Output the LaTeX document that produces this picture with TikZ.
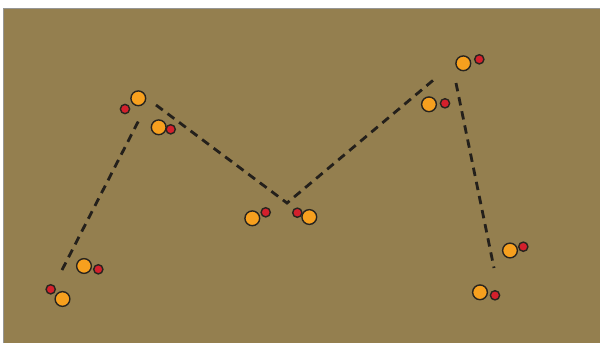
\documentclass[tikz,border=0pt]{standalone}
\definecolor{bg}{RGB}{148,127,79}
\definecolor{orangedot}{RGB}{247,160,30}
\definecolor{reddot}{RGB}{212,32,44}
\definecolor{edge}{RGB}{40,36,30}
\definecolor{frame}{RGB}{150,150,148}
\tikzset{
  big/.style={circle,inner sep=0pt,minimum size=0.295cm,fill=orangedot,draw=edge,line width=0.8pt},
  small/.style={circle,inner sep=0pt,minimum size=0.185cm,fill=reddot,draw=edge,line width=0.8pt},
  route/.style={draw=edge!90!black,line width=1.6pt,dash pattern=on 4.8pt off 3.4pt}
}
\begin{document}
\begin{tikzpicture}[x=0.02cm,y=-0.02cm]
\useasboundingbox (0,0) rectangle (600,343);
\fill[bg] (4,9) rectangle (600,343);
\draw[frame,line width=0.9pt] (3.5,343) -- (3.5,8.5) -- (600,8.5);
% dashed route
\coordinate (a1) at (62,270);
\coordinate (a2) at (140,118);
\coordinate (b1) at (156,105);
\coordinate (b2) at (287,203);
\coordinate (b3) at (437,77);
\coordinate (c1) at (456,83);
\coordinate (c2) at (494,268);
\draw[route] (a1) -- (a2);
\draw[route] (b1) -- (b2) -- (b3);
\draw[route] (c1) -- (c2);
% orange dots
\node[big] (o1) at (62.5,299) {};
\node[big] (o2) at (84,266) {};
\node[big] (o3) at (138.3,98.3) {};
\node[big] (o4) at (158.7,127.3) {};
\node[big] (o5) at (252.3,218.3) {};
\node[big] (o6) at (309.3,217) {};
\node[big] (o7) at (429,104.3) {};
\node[big] (o8) at (463.3,63.3) {};
\node[big] (o9) at (510,250.5) {};
\node[big] (o10) at (480,292.3) {};
% red dots
\node[small] (r1) at (50.7,289.3) {};
\node[small] (r2) at (98.3,269.3) {};
\node[small] (r3) at (125,109) {};
\node[small] (r4) at (170.7,129.3) {};
\node[small] (r5) at (265.7,212.3) {};
\node[small] (r6) at (297.3,212.7) {};
\node[small] (r7) at (445,103.3) {};
\node[small] (r8) at (479.3,59.3) {};
\node[small] (r9) at (523.3,246.7) {};
\node[small] (r10) at (495,295.3) {};
\end{tikzpicture}
\end{document}
